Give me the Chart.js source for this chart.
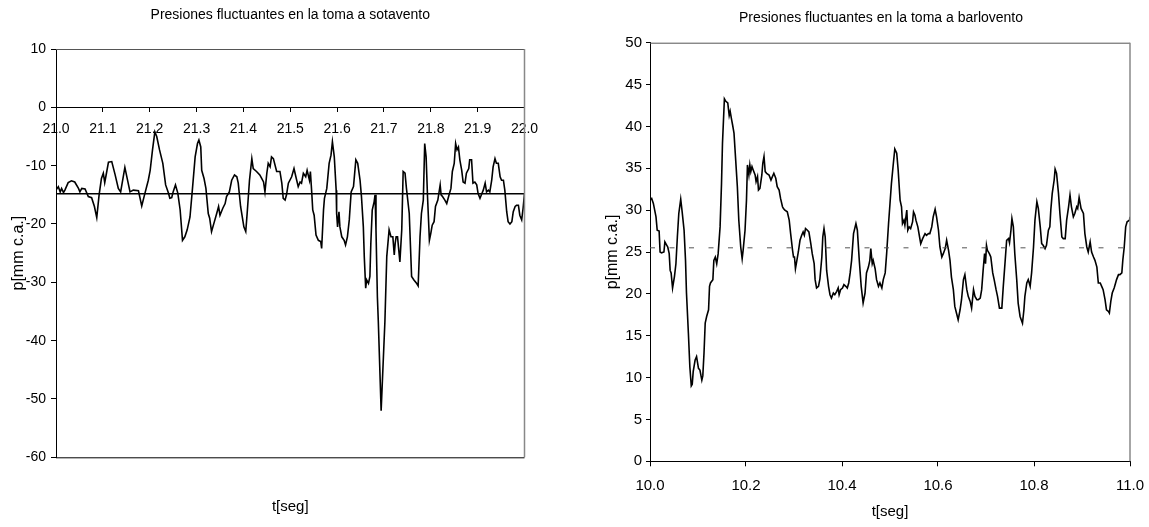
<!DOCTYPE html>
<html>
<head>
<meta charset="utf-8">
<script src="https://cdn.jsdelivr.net/npm/chart.js@4/dist/chart.umd.min.js"></script>
<style>
  html, body { margin: 0; padding: 0; background: #fff; overflow: hidden; width: 1149px; height: 527px; }
  #wrap { position: relative; width: 1149px; height: 527px; overflow: hidden; }
  canvas { position: absolute; top: 0; }
  #cA { left: 0; }
  #cB { left: 600px; }
</style>
</head>
<body>
<div id="wrap">
  <canvas id="cA" width="584" height="527"></canvas>
  <canvas id="cB" width="562" height="527"></canvas>
</div>
<script>
// ---------- Data: toma a sotavento (leeward) ----------
const sotaTitle = 'Presiones fluctuantes en la toma a sotavento';
const sotaT = [21.000,21.005,21.009,21.012,21.016,21.019,21.026,21.033,21.040,21.048,21.051,21.055,21.062,21.069,21.076,21.082,21.087,21.092,21.097,21.101,
21.104,21.107,21.112,21.119,21.126,21.133,21.138,21.147,21.158,21.165,21.176,21.183,21.188,21.197,21.201,21.206,21.211,21.215,21.221,21.228,
21.234,21.240,21.243,21.247,21.250,21.255,21.260,21.265,21.270,21.275,21.280,21.286,21.291,21.297,21.302,21.305,21.309,21.311,21.316,21.320,
21.325,21.328,21.332,21.337,21.343,21.347,21.350,21.356,21.361,21.364,21.370,21.375,21.381,21.386,21.389,21.394,21.401,21.405,21.408,21.413,
21.418,21.421,21.428,21.435,21.439,21.443,21.446,21.450,21.453,21.457,21.460,
21.464,21.471,21.478,21.482,21.485,21.489,21.492,21.496,21.503,21.508,21.512,21.517,21.521,21.524,21.528,21.533,21.536,21.541,21.543,21.546,
21.548,21.551,21.555,21.560,21.565,21.567,21.571,21.573,21.578,21.583,21.587,21.590,21.594,21.598,21.599,21.601,21.604,21.606,21.610,21.615,
21.618,21.622,21.626,21.630,21.635,21.640,21.644,21.649,21.652,21.656,21.658,21.661,21.663,21.667,21.670,21.672,21.675,21.679,21.681,21.683,
21.686,21.688,21.694,21.702,21.706,21.711,21.715,21.719,21.722,21.724,21.726,21.729,21.734,21.738,21.741,21.745,21.748,21.754,21.759,21.764,
21.770,21.773,21.777,21.780,21.784,21.787,21.790,21.793,21.797,21.800,21.803,21.807,21.810,21.815,21.820,21.822,21.825,21.830,21.834,21.839,
21.843,21.846,21.850,21.853,21.856,21.859,21.862,21.866,21.869,21.873,21.876,21.881,21.883,21.887,21.890,21.894,21.898,21.901,21.905,21.908,
21.912,21.916,21.919,21.923,21.926,21.930,21.933,21.937,21.940,21.944,21.948,21.951,21.955,21.958,21.962,21.965,21.969,21.973,21.976,21.980,
21.983,21.987,21.990,21.994,21.997,22.000];
const sotaP = [-14.2,-13.6,-14.5,-13.9,-14.6,-14.2,-12.9,-12.6,-12.8,-13.9,-14.5,-13.9,-14.0,-15.3,-15.5,-17.0,-18.9,-15.0,-12.2,-11.3,
-12.9,-11.6,-9.4,-9.3,-11.5,-13.9,-14.5,-10.3,-14.5,-14.2,-14.3,-16.9,-15.3,-12.5,-10.8,-7.3,-4.2,-5.0,-7.3,-9.6,
-13.3,-14.7,-15.6,-15.5,-14.5,-13.3,-14.7,-17.6,-22.8,-22.2,-21.0,-18.8,-14.2,-8.5,-6.2,-5.6,-6.8,-10.8,-12.2,-13.9,
-18.2,-19.0,-21.3,-19.9,-18.2,-17.0,-18.5,-17.3,-16.5,-15.3,-14.5,-12.5,-11.6,-11.9,-13.0,-17.0,-20.5,-21.3,-18.2,-12.5,
-8.8,-10.5,-11.0,-11.6,-12.2,-12.8,-14.5,-11.3,-9.6,-10.2,-8.5,
-8.8,-11.0,-11.0,-13.0,-15.6,-15.9,-15.0,-13.0,-11.9,-10.5,-11.9,-13.6,-12.8,-13.0,-11.3,-11.9,-10.8,-12.5,-11.0,-14.8,
-17.6,-18.5,-21.9,-22.8,-23.0,-24.2,-17.6,-15.6,-13.9,-9.6,-8.2,-5.9,-8.5,-14.2,-18.2,-20.5,-17.9,-20.5,-22.2,-22.8,
-23.6,-22.2,-19.3,-14.5,-13.6,-9.0,-9.6,-12.5,-15.3,-20.5,-25.6,-31.0,-29.6,-30.2,-29.0,-23.3,-17.6,-16.2,-15.0,-21.0,
-32.5,-36.8,-52.0,-36.8,-25.6,-21.0,-22.2,-22.2,-25.3,-23.3,-22.2,-22.2,-26.5,-21.0,-11.0,-11.3,-13.9,-18.2,-29.0,-29.6,
-30.2,-30.6,-22.2,-18.2,-15.9,-6.2,-8.5,-15.3,-22.8,-21.6,-20.2,-19.6,-17.0,-15.9,-13.3,-15.0,-15.3,-15.9,-16.5,-15.0,
-13.9,-11.0,-9.6,-6.2,-7.3,-6.8,-9.0,-10.8,-12.8,-13.0,-11.3,-10.5,-9.0,-9.0,-13.0,-12.8,-13.3,-14.8,-15.6,-15.0,
-14.2,-13.0,-14.5,-14.2,-14.5,-12.5,-10.2,-8.8,-9.6,-9.6,-11.9,-12.5,-12.5,-14.2,-17.9,-19.6,-20.0,-19.6,-17.9,-17.0,
-16.8,-16.8,-18.5,-19.3,-17.3,-14.8];
const sotaMedia = -14.8;
const sotaXTicks = [21.0,21.1,21.2,21.3,21.4,21.5,21.6,21.7,21.8,21.9,22.0];
const sotaYTicks = [10,0,-10,-20,-30,-40,-50,-60];

// ---------- Data: toma a barlovento (windward) ----------
const barTitle = 'Presiones fluctuantes en la toma a barlovento';
const barT = [10.000,10.0035,10.007,10.0125,10.015,10.019,10.021,10.024,10.029,10.031,10.035,10.037,10.040,10.042,10.044,10.047,10.051,10.054,10.057,10.060,
10.064,10.067,10.071,10.074,10.076,10.080,10.083,10.086,10.088,10.090,10.094,10.097,10.101,10.104,10.108,10.110,10.1125,10.115,10.118,10.122,
10.124,10.126,10.131,10.133,10.136,10.139,10.142,10.146,10.149,10.151,10.155,10.158,10.162,10.165,10.167,10.170,10.172,
10.175,10.1785,10.182,10.185,10.189,10.192,10.194,10.198,10.201,10.203,10.206,10.208,10.210,10.2125,10.215,10.219,10.221,10.224,10.226,10.229,
10.233,10.235,10.2375,10.240,10.243,10.248,10.252,10.255,10.258,10.262,10.265,10.269,10.272,10.276,10.278,10.281,10.286,10.290,10.293,10.297,
10.299,10.301,10.303,10.306,10.309,10.3125,10.316,10.319,10.3215,10.324,10.328,10.331,10.335,10.338,10.342,10.344,10.347,10.351,10.354,10.358,
10.360,10.3625,10.365,10.368,10.372,10.375,10.378,10.382,10.385,10.389,10.392,10.394,10.397,10.401,10.404,10.408,10.411,10.414,10.417,
10.420,10.424,10.429,10.432,10.436,10.440,10.444,10.448,10.451,10.455,10.458,10.460,10.463,10.465,10.469,10.472,10.476,10.479,10.483,10.486,
10.490,10.493,10.497,10.500,10.503,10.507,10.510,10.514,10.517,10.521,10.524,10.526,10.529,10.531,10.535,10.537,10.540,10.543,10.547,10.549,
10.552,10.554,10.558,10.561,10.564,10.568,10.573,10.576,10.580,10.583,10.587,10.590,10.594,10.597,10.601,10.604,10.608,10.611,10.615,10.618,
10.622,10.625,10.628,10.632,10.635,10.639,10.642,10.646,10.649,10.653,10.656,10.660,10.663,10.667,10.670,10.674,10.677,10.681,10.684,10.688,
10.691,10.694,10.697,10.699,10.701,10.703,10.707,10.710,10.714,10.717,10.721,10.724,10.728,10.733,10.736,10.740,10.743,10.747,10.749,10.752,
10.754,10.757,10.760,10.764,10.767,10.771,10.776,10.779,10.781,10.785,10.788,10.792,10.795,10.799,10.802,10.806,10.809,10.813,10.816,10.819,
10.823,10.826,10.830,10.833,10.835,10.838,10.842,10.844,10.847,10.851,10.854,10.858,10.861,10.865,10.868,10.872,10.875,10.878,10.882,10.885,
10.889,10.891,10.894,10.898,10.903,10.906,10.910,10.913,10.917,10.920,10.924,10.927,10.931,10.934,10.938,10.941,10.944,10.948,10.951,10.955,
10.957,10.960,10.963,10.967,10.970,10.972,10.976,10.979,10.983,10.985,10.988,10.991,10.994,10.999,11.000];
const barP = [31.2,31.4,30.8,29.2,27.6,27.5,25.0,24.9,25.0,26.2,25.8,25.6,24.8,22.8,22.5,20.7,22.1,23.6,26.8,29.6,
31.3,29.8,27.6,24.0,20.1,15.3,11.3,9.0,9.2,10.7,12.1,12.5,11.1,10.9,9.7,10.2,12.9,16.5,17.3,18.1,
20.9,21.3,21.7,24.0,24.4,23.6,24.8,28.0,33.2,38.0,43.3,43.0,42.8,41.3,41.8,40.8,40.2,
39.2,36.0,32.8,28.8,25.6,24.2,25.2,27.6,31.2,35.4,34.2,35.4,34.6,35.2,34.8,34.2,33.4,34.0,32.4,32.6,
34.2,35.6,36.4,34.6,34.4,34.2,33.6,34.0,34.4,33.8,32.8,32.4,31.4,30.4,30.2,30.0,29.8,28.8,27.2,25.2,
24.4,24.4,23.0,24.0,25.0,26.4,27.0,27.4,27.0,27.8,27.6,27.4,26.0,24.8,23.6,21.7,20.7,20.9,21.8,24.4,
26.8,27.8,26.8,22.8,20.9,19.9,19.5,20.1,19.9,20.3,20.7,19.9,20.5,20.7,21.1,20.9,20.7,21.3,22.5,
24.0,27.2,28.4,27.6,24.0,20.9,18.9,20.1,22.5,23.2,24.0,25.4,23.6,24.0,23.0,21.7,20.9,21.3,20.7,21.7,
22.5,24.8,28.4,30.8,33.2,35.6,37.3,36.8,34.8,31.2,30.4,28.4,28.8,28.2,30.0,27.6,28.0,27.8,28.6,29.8,
29.4,28.8,28.0,27.0,26.0,26.6,27.2,27.0,27.2,27.2,28.0,29.2,30.1,29.2,27.6,25.6,24.4,24.8,25.4,26.4,
25.2,24.0,22.0,20.5,18.5,17.6,16.9,18.1,19.3,21.7,22.3,20.5,19.7,19.1,18.3,20.5,19.7,19.3,19.3,19.5,
20.5,22.8,24.8,23.6,25.8,25.2,24.8,24.4,22.5,21.7,20.5,19.7,18.3,18.3,20.9,24.0,26.4,26.6,26.1,27.6,
29.0,28.0,24.8,21.7,18.9,17.3,16.5,18.1,19.7,21.3,21.7,20.9,22.5,25.6,28.8,31.0,30.2,28.0,26.0,25.8,
25.4,25.8,27.6,28.0,30.0,32.0,33.6,34.9,34.4,32.0,29.6,26.8,26.6,26.6,28.8,30.4,31.8,30.4,29.2,29.6,
30.4,30.2,31.5,30.2,29.6,27.2,25.6,25.0,26.2,25.0,24.4,24.0,23.2,21.3,21.3,20.9,20.5,19.3,18.1,17.9,
17.7,19.1,20.1,20.7,21.3,21.7,22.3,22.3,22.5,24.0,25.6,28.0,28.6,28.8,29.2];
const barMedia = 25.5;
const barXTicks = [10.0,10.2,10.4,10.6,10.8,11.0];
const barYTicks = [0,5,10,15,20,25,30,35,40,45,50];

const xLabel = 't[seg]';
const yLabel = 'p[mm c.a.]';

// ---------- helpers ----------
const FONT = "'Liberation Sans', Arial, sans-serif";
Chart.defaults.font.family = FONT;
Chart.defaults.color = '#000';

function pts(ts, ps) { return ts.map((t, i) => ({ x: t, y: ps[i] })); }

const frame = {
  id: 'frame',
  afterLayout(chart, args, opts) {
    // widen the y-axis drawing box to the canvas edge so its labels are not clipped
    if (opts.yLeft !== undefined) { chart.scales.y.left = opts.yLeft; }
  },
  afterDatasetsDraw(chart, args, opts) {
    const { ctx, chartArea: a } = chart;
    ctx.save();
    ctx.lineWidth = 1;
    ctx.strokeStyle = '#555';
    ctx.beginPath(); ctx.moveTo(a.left, a.top + 0.5); ctx.lineTo(a.right, a.top + 0.5); ctx.stroke();
    ctx.strokeStyle = '#888';
    ctx.lineWidth = 1.5;
    ctx.beginPath(); ctx.moveTo(a.right, a.top); ctx.lineTo(a.right, a.bottom); ctx.stroke();
    if (opts.bottom) {
      ctx.strokeStyle = '#000'; ctx.lineWidth = 1;
      ctx.beginPath(); ctx.moveTo(a.left, a.bottom + 0.5); ctx.lineTo(a.right, a.bottom + 0.5); ctx.stroke();
    }
    ctx.restore();
  }
};

function tickCb(list) {
  return v => { const m = list.find(t => Math.abs(t - v) < 1e-6); return m === undefined ? null : m.toFixed(1); };
}

// ---------- Chart A: sotavento ----------
new Chart(document.getElementById('cA'), {
  type: 'line',
  data: {
    datasets: [
      { data: [{ x: sotaXTicks[0], y: sotaMedia }, { x: sotaXTicks[sotaXTicks.length - 1], y: sotaMedia }],
        borderColor: '#000', borderWidth: 1.5, pointRadius: 0 },
      { data: pts(sotaT, sotaP), borderColor: '#000', borderWidth: 1.6, pointRadius: 0, tension: 0 }
    ]
  },
  options: {
    responsive: false, animation: false, devicePixelRatio: 1,
    layout: { padding: { left: 0, right: 59.5, top: 0, bottom: 0 } },
    plugins: {
      legend: { display: false }, tooltip: { enabled: false },
      title: { display: true, fullSize: false, text: sotaTitle, color: '#000', font: { size: 14, weight: 'normal' }, padding: { top: 6.6, bottom: 25.6 } },
      frame: { bottom: true }
    },
    scales: {
      x: {
        type: 'linear', position: { y: 0 }, min: sotaXTicks[0], max: sotaXTicks[sotaXTicks.length - 1],
        afterBuildTicks: s => { s.ticks = sotaXTicks.map(v => ({ value: v })); },
        ticks: { callback: tickCb(sotaXTicks), font: { size: 14 }, padding: 9.6, maxRotation: 0, autoSkip: false, color: '#000' },
        grid: { display: true, drawOnChartArea: false, tickLength: 4, color: '#000' },
        border: { display: true, color: '#000', width: 1 }
      },
      x2: {
        type: 'linear', position: 'bottom', min: 0, max: 1,
        ticks: { display: false }, grid: { display: false }, border: { display: false },
        title: { display: true, text: xLabel, color: '#000', font: { size: 15 }, padding: { top: 0, bottom: 11 } },
        afterFit: s => { s.height = 69.7; }
      },
      y: {
        type: 'linear', position: 'left', min: -60, max: 10,
        afterBuildTicks: s => { s.ticks = sotaYTicks.slice().reverse().map(v => ({ value: v })); },
        ticks: { font: { size: 14 }, padding: 5, color: '#000' },
        grid: { display: true, drawOnChartArea: false, tickLength: 5, color: '#000' },
        border: { display: true, color: '#000', width: 1 },
        title: { display: true, text: yLabel, color: '#000', font: { size: 16 }, padding: { top: 9.4, bottom: 0 } },
        afterFit: s => { s.width = 56; }
      }
    }
  },
  plugins: [frame]
});

// ---------- Chart B: barlovento ----------
new Chart(document.getElementById('cB'), {
  type: 'line',
  data: {
    datasets: [
      { data: [{ x: barXTicks[0], y: barMedia }, { x: barXTicks[barXTicks.length - 1], y: barMedia }],
        borderColor: '#555', borderWidth: 1, borderDash: [5, 14.5], pointRadius: 0 },
      { data: pts(barT, barP), borderColor: '#000', borderWidth: 1.6, pointRadius: 0, tension: 0 }
    ]
  },
  options: {
    responsive: false, animation: false, devicePixelRatio: 1,
    layout: { padding: { left: 32, right: 32, top: 0, bottom: 0 } },
    plugins: {
      legend: { display: false }, tooltip: { enabled: false },
      title: { display: true, text: barTitle, color: '#000', font: { size: 14, weight: 'normal' }, padding: { top: 9.6, bottom: 16.3 } },
      frame: { bottom: false, yLeft: 0 }
    },
    scales: {
      x: {
        type: 'linear', position: 'bottom', min: barXTicks[0], max: barXTicks[barXTicks.length - 1],
        afterBuildTicks: s => { s.ticks = barXTicks.map(v => ({ value: v })); },
        ticks: { callback: tickCb(barXTicks), font: { size: 15 }, padding: 10.4, maxRotation: 0, autoSkip: false, color: '#000' },
        grid: { display: true, drawOnChartArea: false, tickLength: 5, color: '#000' },
        border: { display: true, color: '#000', width: 1 },
        title: { display: true, text: xLabel, color: '#000', font: { size: 15 }, padding: { top: 0, bottom: 6 } },
        afterFit: s => { s.height = 65.7; }
      },
      y: {
        type: 'linear', position: 'left', min: 0, max: 50,
        afterBuildTicks: s => { s.ticks = barYTicks.map(v => ({ value: v })); },
        ticks: { font: { size: 15 }, padding: 4, color: '#000' },
        grid: { display: true, drawOnChartArea: false, tickLength: 4, color: '#000' },
        border: { display: true, color: '#000', width: 1 },
        title: { display: true, text: yLabel, color: '#000', font: { size: 16 }, padding: { top: 3.4, bottom: 0 } },
        afterFit: s => { s.width = 18; }
      }
    }
  },
  plugins: [frame]
});
</script>
</body>
</html>
